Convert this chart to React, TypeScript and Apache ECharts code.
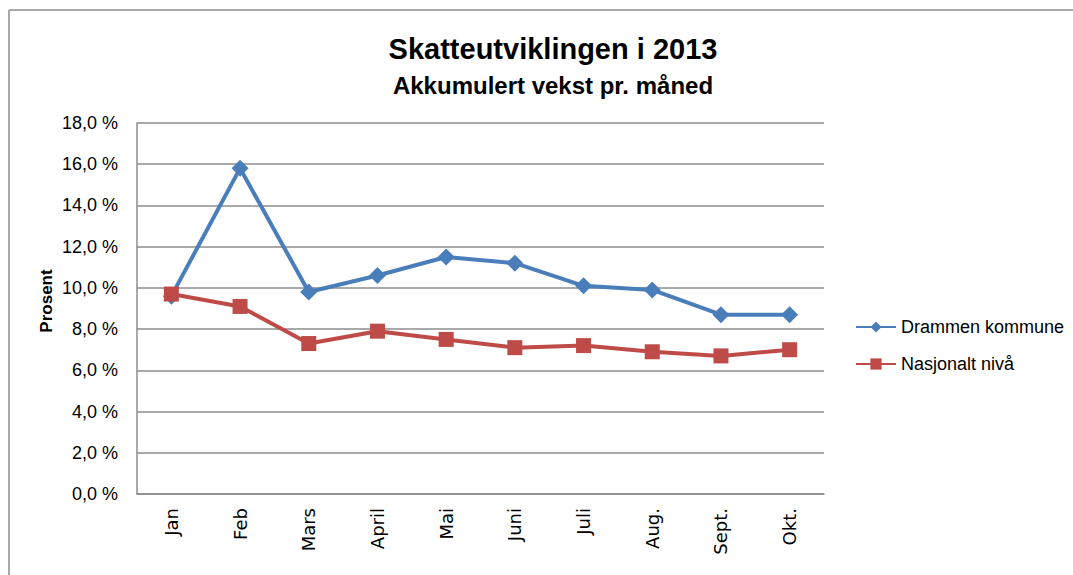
import React, { useEffect, useRef } from "react";
import * as echarts from "echarts";

const months = ["Jan", "Feb", "Mars", "April", "Mai", "Juni", "Juli", "Aug.", "Sept.", "Okt."];
const drammen = [9.6, 15.8, 9.8, 10.6, 11.5, 11.2, 10.1, 9.9, 8.7, 8.7];
const nasjonalt = [9.7, 9.1, 7.3, 7.9, 7.5, 7.1, 7.2, 6.9, 6.7, 7.0];
const seriesNames = ["Drammen kommune", "Nasjonalt nivå"];
const titleText = "Skatteutviklingen i 2013";
const subtitleText = "Akkumulert vekst pr. måned";
const yAxisName = "Prosent";

const FONT = "'Liberation Sans', Arial, sans-serif";

export default function App() {
  const ref = useRef<HTMLDivElement>(null);
  useEffect(() => {
    if (!ref.current) return;
    const chart = echarts.init(ref.current, undefined, { renderer: "svg" });
    chart.setOption({
      animation: false,
      backgroundColor: "#ffffff",
      graphic: [
        { type: "line", shape: { x1: 9, y1: 10, x2: 1073, y2: 10 }, style: { stroke: "#8c8c8c", lineWidth: 1.5 } },
        { type: "line", shape: { x1: 9, y1: 10, x2: 9, y2: 575 }, style: { stroke: "#8c8c8c", lineWidth: 1.5 } },
        {
          type: "text",
          x: 46,
          y: 301,
          rotation: Math.PI / 2,
          style: {
            text: yAxisName,
            fontFamily: FONT,
            fontWeight: "bold",
            fontSize: 17,
            fill: "#000",
            align: "center",
            verticalAlign: "middle",
          },
        },
      ],
      title: [
        {
          text: titleText,
          left: 548,
          top: 29,
          textAlign: "center",
          textStyle: { fontFamily: FONT, fontWeight: "bold", fontSize: 29, color: "#000" },
        },
        {
          text: subtitleText,
          left: 548,
          top: 68,
          textAlign: "center",
          textStyle: { fontFamily: FONT, fontWeight: "bold", fontSize: 24, color: "#000" },
        },
      ],
      legend: {
        orient: "vertical",
        left: 850,
        top: 313,
        itemGap: 19,
        itemWidth: 40,
        itemHeight: 14,
        textStyle: { fontFamily: FONT, fontSize: 18, color: "#000" },
        data: seriesNames,
      },
      grid: { left: 137, right: 249, top: 123, bottom: 81, containLabel: false },
      xAxis: {
        type: "category",
        data: months,
        boundaryGap: true,
        axisLine: { lineStyle: { color: "#8c8c8c", width: 1.5 } },
        axisTick: { show: false },
        axisLabel: {
          rotate: 90,
          margin: 14,
          fontFamily: "'DejaVu Sans', sans-serif",
          fontSize: 18,
          color: "#000",
        },
      },
      yAxis: {
        type: "value",
        min: 0,
        max: 18,
        interval: 2,
        axisLine: { show: true, lineStyle: { color: "#8c8c8c", width: 1.5 } },
        axisTick: { show: false },
        splitLine: { lineStyle: { color: "#8c8c8c", width: 1.5 } },
        axisLabel: {
          margin: 19,
          fontFamily: FONT,
          fontSize: 18,
          color: "#000",
          formatter: (v: number) => v.toFixed(1).replace(".", ",") + " %",
        },
      },
      series: [
        {
          name: seriesNames[0],
          type: "line",
          data: drammen,
          symbol: "diamond",
          symbolSize: 17,
          itemStyle: { color: "#4a7ebb" },
          lineStyle: { color: "#4a7ebb", width: 4 },
        },
        {
          name: seriesNames[1],
          type: "line",
          data: nasjonalt,
          symbol: "rect",
          symbolSize: 15,
          itemStyle: { color: "#be4b48" },
          lineStyle: { color: "#be4b48", width: 4 },
        },
      ],
    });
    return () => chart.dispose();
  }, []);
  return <div ref={ref} style={{ position: "fixed", left: 0, top: 0, width: 1073, height: 575 }} />;
}
